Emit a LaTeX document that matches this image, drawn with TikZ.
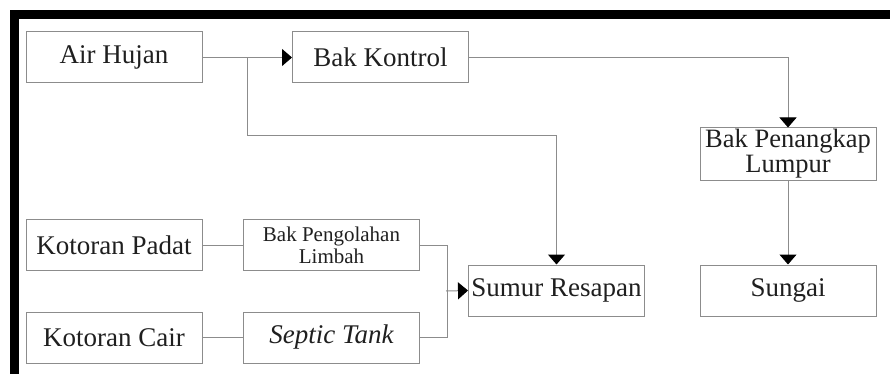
\documentclass[tikz,border=0pt]{standalone}
\usepackage{fontspec}
\setmainfont{Liberation Serif}
\usetikzlibrary{arrows.meta}

\begin{document}
\begin{tikzpicture}[x=1pt,y=-1pt,
	kotak/.style={draw=black!45,line width=1pt,inner sep=0pt,minimum width=176pt,minimum height=51pt,text=black!88,font=\fontsize{27}{28}\selectfont},
	garis/.style={draw=black!45,line width=1pt},
	panah/.style={garis,-{Triangle[length=10pt,width=17pt,color=black]}}]
	\useasboundingbox (0,0) rectangle (890,374);
	\fill[black] (10,10) rectangle (890,19);
	\fill[black] (10,10) rectangle (19,374);
	\node[kotak] (air) at (114, 57.5)     {Air Hujan};
	\node[kotak] (kontrol) at (380.5, 57.5)     {Bak Kontrol};
	\node[kotak,align=center,minimum height=52pt,font=\fontsize{26.5}{25}\selectfont] (penangkap) at (788, 154)     {Bak Penangkap\\Lumpur};
	\node[kotak] (sungai) at (788, 290.5)     {Sungai};
	\node[kotak] (sumur) at (556.5, 290.5)     {Sumur Resapan};
	\node[kotak] (padat) at (114, 245)     {Kotoran Padat};
	\node[kotak,align=center,font=\fontsize{21}{22}\selectfont] (olah) at (331.5, 245)     {Bak Pengolahan\\Limbah};
	\node[kotak] (cair) at (114, 337.5)     {Kotoran Cair};
	\node[kotak,font=\fontsize{27}{28}\selectfont\itshape] (septic) at (331.5, 337.5)     {Septic Tank};
	\coordinate (cabang) at (247, 57.5);
	\coordinate (gabung) at (446, 291);
	\path[panah] (air) edge (kontrol);
	\draw[panah] (cabang) -- ++(0,78.5) -| (sumur.north);
	\draw[panah] (kontrol.east) -| (penangkap.north);
	\draw[panah] (penangkap) -- (sungai);
	\path[garis] (padat) edge (olah);
	\path[garis] (cair) edge (septic);
	\draw[garis] (olah.east) -- ++(27,0) |- (septic.east);
	\draw[panah] (gabung) -- (sumur.west);
\end{tikzpicture}
\end{document}
